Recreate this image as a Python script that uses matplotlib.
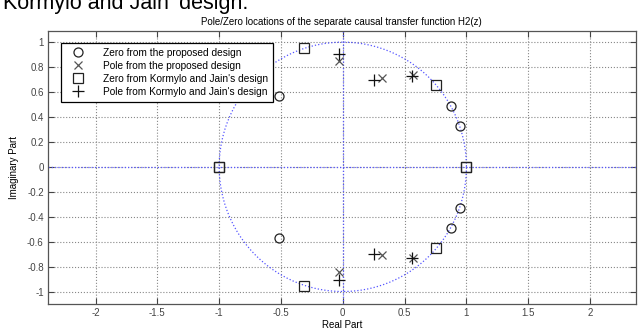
import numpy as np
import matplotlib
matplotlib.use('Agg')
import matplotlib.pyplot as plt

plt.rcParams['font.family'] = ['Liberation Sans', 'DejaVu Sans']

# zeros / poles (upper half, conjugates added below)
zero_prop_re = [-0.52, 0.875, 0.945]
zero_prop_im = [0.57, 0.49, 0.33]
pole_prop_re = [-0.03, 0.32, 0.57]
pole_prop_im = [0.845, 0.71, 0.735]
zero_kj_re = [-0.31, -1.0, 0.755, 1.0]
zero_kj_im = [0.953, 0.0, 0.653, 0.0]
pole_kj_re = [-0.03, 0.25, 0.56]
pole_kj_im = [0.905, 0.70, 0.73]

xticks = [-2, -1.5, -1, -0.5, 0, 0.5, 1, 1.5, 2]
yticks = [-1, -0.8, -0.6, -0.4, -0.2, 0, 0.2, 0.4, 0.6, 0.8, 1]


def conj(re, im):
    re = np.array(re)
    im = np.array(im)
    return np.concatenate([re, re]), np.concatenate([im, -im])


fig = plt.figure(figsize=(6.39, 3.29), dpi=100)
ax = fig.add_axes([0.075, 0.076, 0.92, 0.83])

# caption text from the page above, cut by the crop
fig.text(0.005, 1 - 8.5 / 329, "Kormylo and Jain' design.", fontsize=15.5, va='baseline', ha='left')

ax.set_xlim(-2.385, 2.37)
ax.set_ylim(-1.1, 1.09)

# unit circle and axes lines like zplane
t = np.linspace(0, 2 * np.pi, 400)
ax.plot(np.cos(t), np.sin(t), ':', color='#5555ff', lw=0.9, zorder=2)
ax.axhline(0, ls=':', color='#5555ff', lw=0.9, zorder=2)
ax.axvline(0, ls=':', color='#5555ff', lw=0.9, zorder=2)

ax.grid(True, ls=':', color='#888888', lw=0.8)
ax.set_axisbelow(True)

x, y = conj(zero_prop_re, zero_prop_im)
ax.plot(x, y, 'o', mfc='none', mec='#222222', ms=6.5, mew=0.9, label='Zero from the proposed design', zorder=3)
x, y = conj(pole_prop_re, pole_prop_im)
ax.plot(x, y, 'x', color='#555555', ms=6, mew=0.9, label='Pole from the proposed design', zorder=3)
x, y = conj(zero_kj_re, zero_kj_im)
ax.plot(x, y, 's', mfc='none', mec='#222222', ms=7, mew=0.9, label="Zero from Kormylo and Jain's design", zorder=3)
x, y = conj(pole_kj_re, pole_kj_im)
ax.plot(x, y, '+', color='#111111', ms=8, mew=0.9, label="Pole from Kormylo and Jain's design", zorder=3)

ax.set_xticks(xticks)
ax.set_yticks(yticks)
ax.set_xticklabels([f'{v:g}' for v in xticks])
ax.set_yticklabels([f'{v:g}' for v in yticks])
ax.tick_params(direction='in', top=True, right=True, length=4, labelsize=7,
               colors='#444444', labelcolor='#444444', pad=3)
for s in ax.spines.values():
    s.set_color('#555555')
    s.set_linewidth(0.9)

ax.set_xlabel('Real Part', fontsize=7, labelpad=1)
ax.set_ylabel('Imaginary Part', fontsize=7, labelpad=6)
ax.set_title('Pole/Zero locations of the separate causal transfer function H2(z)', fontsize=7, pad=4)

leg = ax.legend(loc='upper left', bbox_to_anchor=(0.013, 0.975), fontsize=7.3, frameon=True,
                fancybox=False, edgecolor='black', framealpha=1, borderpad=0.5,
                handletextpad=1.2, labelspacing=0.3, handlelength=2.5)
leg.get_frame().set_linewidth(0.9)

fig.savefig('out.png', dpi=100)
